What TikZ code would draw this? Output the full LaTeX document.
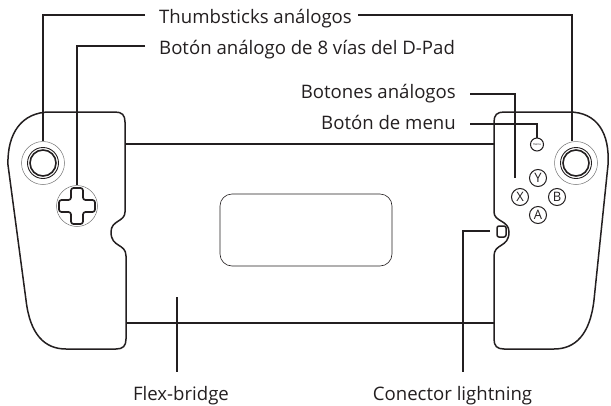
\documentclass[tikz,border=0pt]{standalone}
\usepackage{fontspec}
\setmainfont{Open Sans}
\usepackage{xcolor}
\usetikzlibrary{positioning}
\usetikzlibrary{calc}
\definecolor{ink}{HTML}{231F20}

\begin{document}
\begin{tikzpicture}[
x=1pt,y=-1pt,
label/.style = {text=ink, font=\fontsize{18.6}{20}\selectfont, inner sep=0pt, text height=16pt, text depth=0pt},
body/.style = {draw=ink, line width=1.5pt, line join=round},
line/.style = {draw=ink, line width=1.8pt},
halo/.style = {circle, draw=black!55, line width=0.5pt, minimum size=43pt, inner sep=0pt},
ring/.style = {circle, draw=ink, inner sep=0pt},
btn/.style = {circle, draw=ink, line width=1pt, minimum size=17pt, inner sep=0pt,
  text=ink, font=\fontsize{13}{13}\selectfont},
]
\useasboundingbox (0,0) rectangle (611,405);

% grips
\path[body] (125,122) .. controls (125,115) and (122,112) .. (115,112)
  -- (50,112) .. controls (22,112) and (7,133) .. (8,165)
  -- (26,300) .. controls (30,335) and (45,349) .. (66,349)
  -- (116,349) .. controls (123,349) and (126,346) .. (126,339)
  -- (126,256) .. controls (126,243) and (111,248) .. (111,232)
  .. controls (111,220) and (125,222) .. (125,212) -- cycle;
\path[body] (494,122) .. controls (494,115) and (497,112) .. (504,112)
  -- (569,112) .. controls (597,112) and (610,133) .. (608,165)
  -- (594,300) .. controls (590,335) and (575,349) .. (554,349)
  -- (504,349) .. controls (497,349) and (494,346) .. (494,339)
  -- (494,256) .. controls (494,243) and (509,248) .. (509,232)
  .. controls (509,220) and (494,222) .. (494,212) -- cycle;
\draw[body, line width=0.6pt, rounded corners=12pt] (220,194) rectangle (392,266);

\node[halo] (stickl) at (43,163) {};
\node[ring, line width=0.9pt, minimum size=31pt] at (stickl) {};
\node[ring, line width=1.6pt, minimum size=26pt] at (stickl) {};
\node[halo] (stickr) at (576,163) {};
\node[ring, line width=0.9pt, minimum size=31pt] at (stickr) {};
\node[ring, line width=1.6pt, minimum size=26pt] at (stickr) {};

\node[halo, minimum size=41pt] (dpad) at (77,206) {};
\draw[body, line width=1.7pt, rounded corners=2.5pt] (71,188) -- (83,188) -- (83,200) -- (95,200) -- (95,212)
  -- (83,212) -- (83,224) -- (71,224) -- (71,212) -- (59,212) -- (59,200) -- (71,200) -- cycle;

\node[btn, minimum size=13pt, font=\fontsize{3}{3}\selectfont] (menu) at (537,144.5) {menu};
\node[btn] (y) at (538,178) {Y};
\node[btn] (x) at (520,197) {X};
\node[btn] (b) at (557,197) {B};
\node[btn] (a) at (538,215) {A};
\draw[body, rounded corners=2pt] (497,226) rectangle (506,237);
\coordinate (lightning) at (490,231);
\coordinate (abxy) at (515,178);
\coordinate (bridge) at (177,297);
\coordinate (topl) at (125,144);
\coordinate (topr) at (494,144);
\coordinate (botl) at (126,323);
\coordinate (botr) at (494,323);

% labels
\node[label, anchor=west] (thumbs) at (159,15) {Thumbsticks análogos};
\node[label, anchor=west] (cross) at (159,46) {Botón análogo de 8 vías del D-Pad};
\node[label, anchor=east] (abxytxt) at (456,90) {Botones análogos};
\node[label, anchor=east] (menutxt) at (456,121) {Botón de menu};
\node[label] (flex) at (181,392) {Flex-bridge};
\node[label] (conn) at (452.5,392) {Conector lightning};

\begin{scope}[every path/.style=line]
\path ($(thumbs.west)+(-14,0)$) -| (stickl.north);
\path ($(thumbs.east)+(6,0)$) -| ($(stickr.north)+(-4,0)$);
\path ($(cross.west)+(-14,0)$) -| (dpad.north);
\path ($(abxytxt.east)+(14,4)$) -| (abxy);
\path ($(menutxt.east)+(14,3)$) -| (menu.north);
\path (lightning) -| ($(conn.north)+(10.5,-12)$);
\path (bridge) -- ($(flex.north)+(-4,-12)$);
\path (topl) -- (topr);
\path (botl) -- (botr);
\end{scope}

\end{tikzpicture}
\end{document}
